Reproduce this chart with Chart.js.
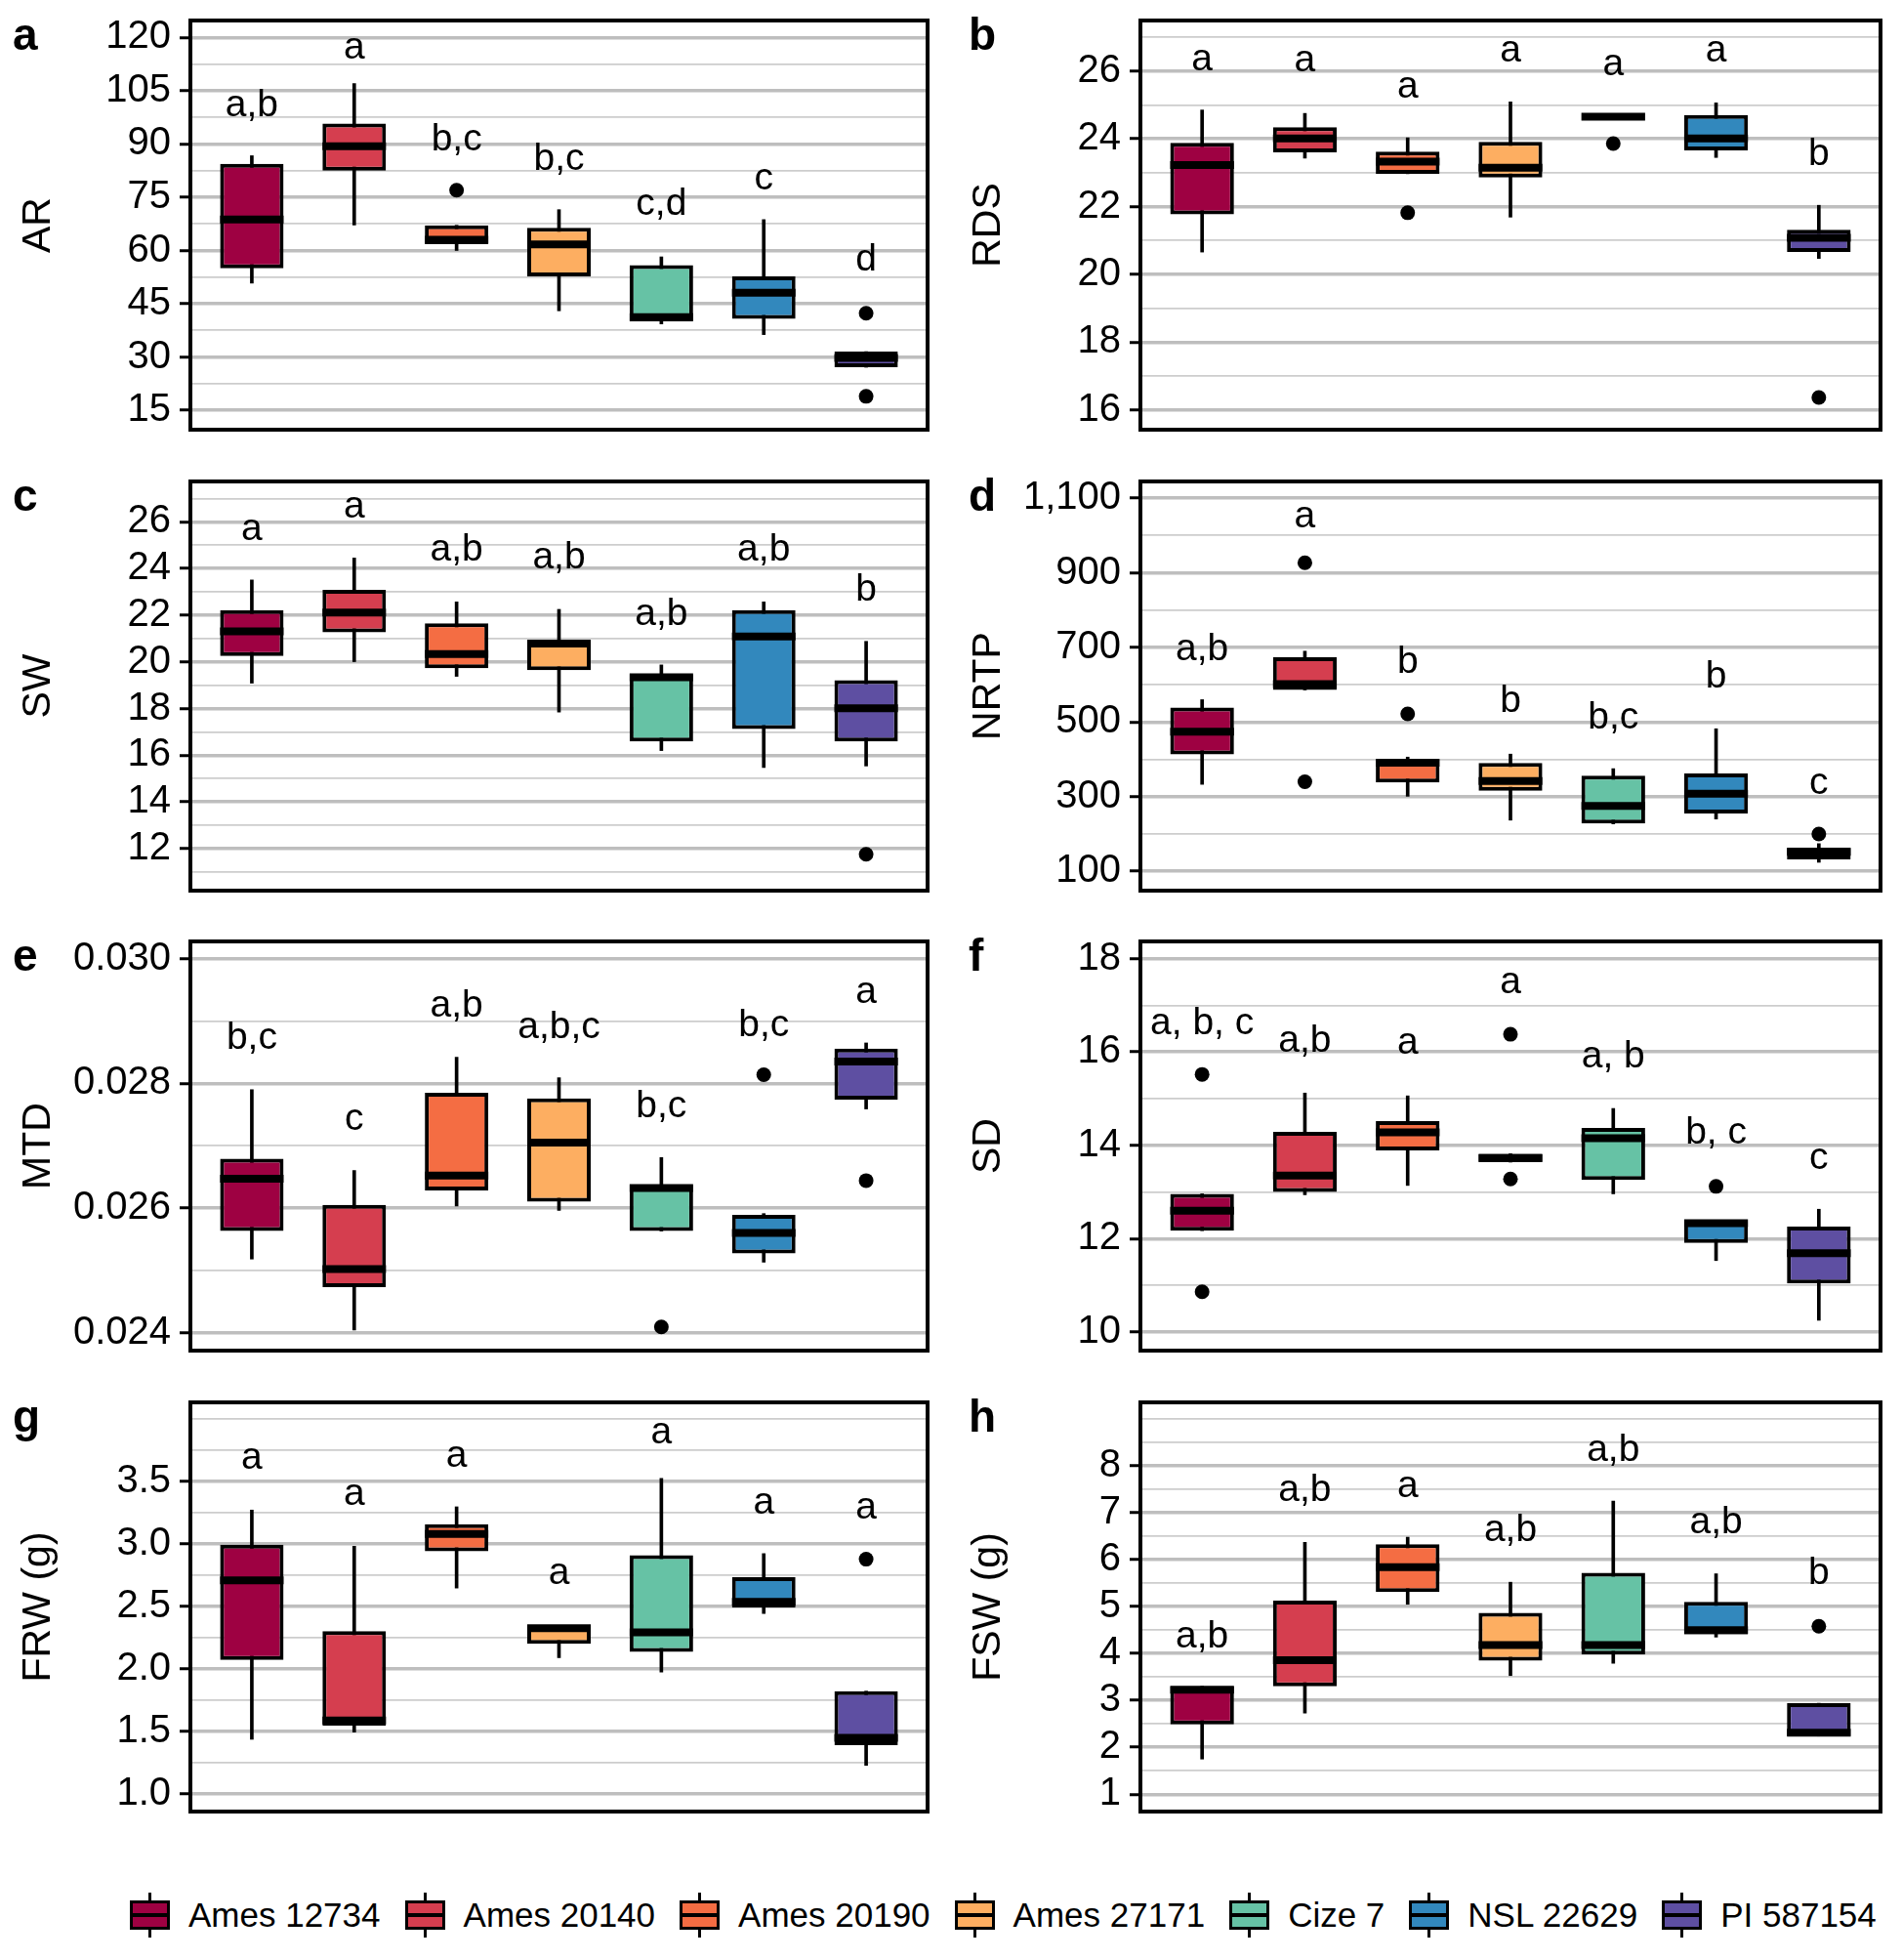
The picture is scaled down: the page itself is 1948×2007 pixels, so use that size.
<!DOCTYPE html>
<html>
<head>
<meta charset="utf-8">
<script src="https://cdn.jsdelivr.net/npm/chart.js@4.4.1/dist/chart.umd.min.js"></script>
<style>
  body { margin: 0; background: #fff; }
  #page { position: relative; width: 1948px; height: 2007px; overflow: hidden; font-family: "Liberation Sans", Arial, sans-serif; }
  #page canvas { position: absolute; }
  #legend { position: absolute; left: 133px; top: 1938px; display: flex; align-items: center; }
  .key { position: relative; width: 41px; height: 46px; }
  .key .wh { position: absolute; left: 19px; width: 3px; top: 0; bottom: 0; background: #000; }
  .key .bx { position: absolute; left: 0; right: 0; top: 8px; bottom: 8px; border: 3px solid #000; box-sizing: border-box; }
  .key .md { position: absolute; left: 0; right: 0; top: 21px; height: 4px; background: #000; }
  .lab { font-size: 35px; line-height: 46px; margin-left: 19px; margin-right: 25px; color: #000; }
</style>
</head>
<body>
<div id="page"><div id="legend"></div></div>
<script>
// categories and colours
var categories = ["Ames 12734", "Ames 20140", "Ames 20190", "Ames 27171", "Cize 7", "NSL 22629", "PI 587154"];
var boxColors = ["#9E0142", "#D53E4F", "#F46D43", "#FDAE61", "#66C2A5", "#3288BD", "#5E4FA2"];

// each box: [lower whisker, q1, median, q3, upper whisker]
// a - AR
var arBoxes = [[50.8,55.0,68.7,84.4,86.7],[67.2,82.5,89.4,95.8,107.0],[60.0,61.8,63.0,67.1,67.1],[43.0,52.7,61.7,66.4,71.5],[39.3,40.0,41.2,55.9,58.2],[36.3,40.7,48.1,52.7,68.7],[27.1,27.1,29.7,31.5,31.5]];
var arOutliers = [[],[],[77.0],[],[],[],[42.3,18.9]];
var arLetters = ["a,b","a","b,c","b,c","c,d","c","d"];
var arLetterY = [100.9,117.0,91.2,85.7,72.9,80.2,57.3];
var arRange = [9.5, 124.8];
var arMajor = [15,30,45,60,75,90,105,120];
var arMinor = [22.5,37.5,52.5,67.5,82.5,97.5,112.5];

// b - RDS
var rdsBoxes = [[20.66,21.77,23.23,23.88,24.85],[23.43,23.60,24.01,24.34,24.75],[22.97,22.97,23.33,23.62,24.03],[21.69,22.86,23.15,23.91,25.09],[24.65,24.65,24.65,24.65,24.65],[23.45,23.66,24.01,24.70,25.06],[20.47,20.66,21.08,21.32,22.04]];
var rdsOutliers = [[],[],[21.82],[],[23.86],[],[16.37]];
var rdsLetters = ["a","a","a","a","a","a","b"];
var rdsLetterY = [26.34,26.29,25.52,26.58,26.19,26.58,23.55];
var rdsRange = [15.42, 27.49];
var rdsMajor = [16,18,20,22,24,26];
var rdsMinor = [17,19,21,23,25,27];

// c - SW
var swBoxes = [[19.09,20.25,21.31,22.22,23.51],[20.01,21.27,22.11,23.09,24.45],[19.38,19.73,20.34,21.65,22.57],[17.85,19.64,20.78,20.95,22.25],[16.20,16.59,19.34,19.45,19.87],[15.47,17.12,21.09,22.22,22.57],[15.54,16.59,18.01,19.22,20.88]];
var swOutliers = [[],[],[],[],[],[],[11.76]];
var swLetters = ["a","a","a,b","a,b","a,b","a,b","b"];
var swLetterY = [25.68,26.62,24.77,24.45,22.04,24.77,23.09];
var swRange = [10.2, 27.73];
var swMajor = [12,14,16,18,20,22,24,26];
var swMinor = [11,13,15,17,19,21,23,25,27];

// d - NRTP
var nrtpBoxes = [[333,413,474,539,560],[586,586,602,674,690],[301,338,391,400,406],[237,316,342,390,414],[227,228,275,356,375],[240,255,308,362,482],[124,132,152,163,174]];
var nrtpOutliers = [[],[927,340],[522],[],[],[],[200]];
var nrtpLetters = ["a,b","a","b","b","b,c","b","c"];
var nrtpLetterY = [694,1049,659,554,510,620,336];
var nrtpRange = [48, 1145];
var nrtpMajor = [100,300,500,700,900,1100];
var nrtpMinor = [200,400,600,800,1000];

// e - MTD
var mtdBoxes = [[0.02518,0.02563,0.02647,0.02679,0.02790],[0.02404,0.02473,0.02502,0.02605,0.02660],[0.02603,0.02628,0.02652,0.02785,0.02842],[0.02596,0.02610,0.02705,0.02776,0.02809],[0.02563,0.02563,0.02632,0.02637,0.02681],[0.02513,0.02527,0.02560,0.02589,0.02591],[0.02759,0.02774,0.02835,0.02856,0.02865]];
var mtdOutliers = [[],[],[],[],[0.02409],[0.02814],[0.02644]];
var mtdLetters = ["b,c","c","a,b","a,b,c","b,c","b,c","a"];
var mtdLetterY = [0.02872,0.02743,0.02924,0.02890,0.02762,0.02893,0.02946];
var mtdRange = [0.02371, 0.03028];
var mtdMajor = [0.024,0.026,0.028,0.030];
var mtdMinor = [0.025,0.027,0.029];

// f - SD
var sdBoxes = [[12.17,12.17,12.60,12.96,12.96],[12.94,13.00,13.35,14.29,15.12],[13.14,13.89,14.28,14.52,15.06],[13.64,13.64,13.73,13.82,13.82],[12.96,13.26,14.15,14.37,14.79],[11.53,11.91,12.33,12.38,12.38],[10.25,11.04,11.69,12.26,12.63]];
var sdOutliers = [[15.52,10.86],[],[],[16.38,13.28],[],[13.12],[]];
var sdLetters = ["a, b, c","a,b","a","a","a, b","b, c","c"];
var sdLetterY = [16.60,16.22,16.18,17.48,15.90,14.26,13.71];
var sdRange = [9.6, 18.37];
var sdMajor = [10,12,14,16,18];
var sdMinor = [11,13,15,17];

// g - FRW (g)
var frwBoxes = [[1.435,2.070,2.708,2.994,3.272],[1.493,1.545,1.585,2.301,2.983],[2.647,2.941,3.080,3.159,3.298],[2.089,2.201,2.325,2.346,2.346],[1.973,2.136,2.293,2.910,3.526],[2.443,2.490,2.537,2.734,2.923],[1.226,1.388,1.446,1.821,1.821]];
var frwOutliers = [[],[],[],[],[],[],[2.878]];
var frwLetters = ["a","a","a","a","a","a","a"];
var frwLetterY = [3.684,3.395,3.702,2.765,3.893,3.329,3.290];
var frwRange = [0.856, 4.135];
var frwMajor = [1.0,1.5,2.0,2.5,3.0,3.5];
var frwMinor = [1.25,1.75,2.25,2.75,3.25,3.75,4.0];

// h - FSW (g)
var fswBoxes = [[1.75,2.49,3.23,3.30,3.30],[2.73,3.30,3.86,5.13,6.37],[5.05,5.31,5.84,6.33,6.48],[3.53,3.85,4.18,4.87,5.52],[3.79,3.98,4.18,5.72,7.25],[4.35,4.41,4.50,5.10,5.70],[2.24,2.24,2.31,2.94,2.94]];
var fswOutliers = [[],[],[],[],[],[],[4.58]];
var fswLetters = ["a,b","a,b","a","a,b","a,b","a,b","b"];
var fswLetterY = [4.35,7.47,7.56,6.62,8.33,6.79,5.71];
var fswRange = [0.631, 9.354];
var fswMajor = [1,2,3,4,5,6,7,8];
var fswMinor = [1.5,2.5,3.5,4.5,5.5,6.5,7.5,8.5,9.0];

var BOX_WIDTH = 0.62;
var FONT = '"Liberation Sans", Arial, sans-serif';
Chart.defaults.font.family = FONT;
Chart.defaults.color = "#000";

var plain = function(v) { return String(v); };
var panels = [
	{ id: "a", title: "AR", boxes: arBoxes, outliers: arOutliers, letters: arLetters, letterY: arLetterY, range: arRange, major: arMajor, minor: arMinor, fmt: plain },
	{ id: "b", title: "RDS", boxes: rdsBoxes, outliers: rdsOutliers, letters: rdsLetters, letterY: rdsLetterY, range: rdsRange, major: rdsMajor, minor: rdsMinor, fmt: plain },
	{ id: "c", title: "SW", boxes: swBoxes, outliers: swOutliers, letters: swLetters, letterY: swLetterY, range: swRange, major: swMajor, minor: swMinor, fmt: plain },
	{ id: "d", title: "NRTP", boxes: nrtpBoxes, outliers: nrtpOutliers, letters: nrtpLetters, letterY: nrtpLetterY, range: nrtpRange, major: nrtpMajor, minor: nrtpMinor, fmt: function(v) { return v.toLocaleString("en-US"); } },
	{ id: "e", title: "MTD", boxes: mtdBoxes, outliers: mtdOutliers, letters: mtdLetters, letterY: mtdLetterY, range: mtdRange, major: mtdMajor, minor: mtdMinor, fmt: function(v) { return v.toFixed(3); } },
	{ id: "f", title: "SD", boxes: sdBoxes, outliers: sdOutliers, letters: sdLetters, letterY: sdLetterY, range: sdRange, major: sdMajor, minor: sdMinor, fmt: plain },
	{ id: "g", title: "FRW (g)", boxes: frwBoxes, outliers: frwOutliers, letters: frwLetters, letterY: frwLetterY, range: frwRange, major: frwMajor, minor: frwMinor, fmt: function(v) { return v.toFixed(1); } },
	{ id: "h", title: "FSW (g)", boxes: fswBoxes, outliers: fswOutliers, letters: fswLetters, letterY: fswLetterY, range: fswRange, major: fswMajor, minor: fswMinor, fmt: plain }
];

// page layout of the panel grid
var colLeft = [0, 973];
var colWidth = [955, 958];
var rowTop = [-9, 463, 934, 1406];
var letterX = [13, 19];

function isMajor(v, list) {
	return list.some(function(m) { return Math.abs(m - v) < 1e-9; });
}

function makePanel(p, idx) {
	var col = idx % 2, row = Math.floor(idx / 2);
	var canvas = document.createElement("canvas");
	canvas.width = colWidth[col];
	canvas.height = 479;
	canvas.style.left = colLeft[col] + "px";
	canvas.style.top = rowTop[row] + "px";
	document.getElementById("page").appendChild(canvas);

	var boxData = [], whiskerData = [], medianData = [], outlierData = [];
	for (var i = 0; i < categories.length; i++) {
		var b = p.boxes[i];
		boxData.push({ x: i, y: [b[1], b[3]] });
		whiskerData.push({ x: i, y: [b[0], b[4]] });
		medianData.push({ x: i, y: b[2] });
		p.outliers[i].forEach(function(v) { outlierData.push({ x: i, y: v }); });
	}

	var halfBox = function(c) {
		var xs = c.chart.scales.x;
		if (!xs || !xs.width) return 30;
		return xs.getPixelForValue(BOX_WIDTH / 2) - xs.getPixelForValue(0);
	};

	var annotate = {
		id: "annotate",
		afterDatasetsDraw: function(chart) {
			var ctx = chart.ctx, xs = chart.scales.x, ys = chart.scales.y;
			ctx.save();
			ctx.fillStyle = "#000";
			ctx.font = "39px " + FONT;
			ctx.textAlign = "center";
			ctx.textBaseline = "middle";
			for (var i = 0; i < p.letters.length; i++) {
				ctx.fillText(p.letters[i], xs.getPixelForValue(i), ys.getPixelForValue(p.letterY[i]));
			}
			ctx.restore();
		},
		afterDraw: function(chart) {
			var ctx = chart.ctx, a = chart.chartArea;
			ctx.save();
			ctx.strokeStyle = "#000";
			ctx.lineWidth = 4;
			ctx.strokeRect(a.left, a.top, a.right - a.left, a.bottom - a.top);
			ctx.fillStyle = "#000";
			ctx.font = "bold 46px " + FONT;
			ctx.textAlign = "left";
			ctx.textBaseline = "alphabetic";
			ctx.fillText(p.id, letterX[col], a.top + 30);
			ctx.restore();
		}
	};

	new Chart(canvas, {
		type: "bar",
		data: {
			datasets: [
				{ type: "scatter", data: outlierData, order: 0, pointRadius: 7.5, pointBackgroundColor: "#000", pointBorderWidth: 0 },
				{ type: "scatter", data: medianData, order: 1, pointStyle: "line", pointRadius: halfBox, pointBorderWidth: 8, pointBorderColor: "#000" },
				{ type: "bar", data: boxData, order: 2, grouped: false, backgroundColor: boxColors, borderColor: "#000", borderWidth: 4, borderSkipped: false, barPercentage: BOX_WIDTH, categoryPercentage: 1 },
				{ type: "bar", data: whiskerData, order: 3, grouped: false, backgroundColor: "#000", borderWidth: 0, barThickness: 3 }
			]
		},
		options: {
			responsive: false,
			animation: false,
			events: [],
			layout: { autoPadding: false, padding: { top: 30, bottom: 30, left: 0, right: 5 } },
			plugins: { legend: { display: false }, tooltip: { enabled: false } },
			scales: {
				x: {
					type: "linear", display: false, bounds: "data", offset: false,
					grid: { offset: false },
					min: -0.6, max: categories.length - 0.4,
					afterBuildTicks: function(s) { s.ticks = categories.map(function(c, i) { return { value: i }; }); }
				},
				y: {
					type: "linear", bounds: "data",
					min: p.range[0], max: p.range[1],
					afterBuildTicks: function(s) {
						s.ticks = p.major.concat(p.minor).sort(function(a, b) { return a - b; }).map(function(v) { return { value: v }; });
					},
					afterFit: function(s) { s.width = 195; },
					border: { display: false },
					grid: {
						color: function(c) { return isMajor(c.tick.value, p.major) ? "#bebebe" : "#cdcdcd"; },
						lineWidth: function(c) { return isMajor(c.tick.value, p.major) ? 3.5 : 1.8; },
						tickColor: function(c) { return isMajor(c.tick.value, p.major) ? "#000" : "rgba(0,0,0,0)"; },
						tickWidth: 3,
						tickLength: 11
					},
					ticks: {
						autoSkip: false,
						padding: 9,
						font: { size: 40, lineHeight: 1 },
						callback: function(v) { return isMajor(v, p.major) ? p.fmt(v) : ""; }
					},
					title: { display: true, text: p.title, font: { size: 41 }, padding: { top: 15, bottom: 0 } }
				}
			}
		},
		plugins: [annotate]
	});
}

panels.forEach(makePanel);

// shared legend
var legend = document.getElementById("legend");
categories.forEach(function(name, i) {
	var key = document.createElement("div");
	key.className = "key";
	key.innerHTML = '<div class="wh"></div><div class="bx" style="background:' + boxColors[i] + '"></div><div class="md"></div>';
	var lab = document.createElement("div");
	lab.className = "lab";
	lab.textContent = name;
	legend.appendChild(key);
	legend.appendChild(lab);
});
</script>
</body>
</html>
